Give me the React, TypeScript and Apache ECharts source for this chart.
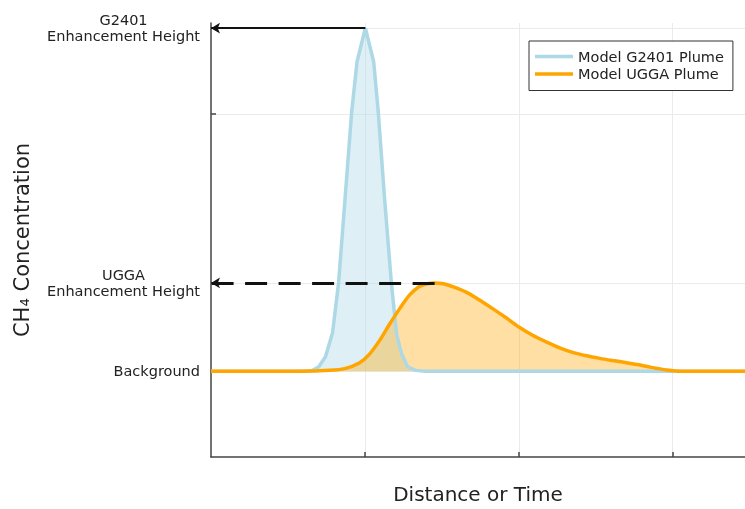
import React, { useEffect, useRef } from 'react';
import * as echarts from 'echarts';

// Distance / time axis positions and concentration values
const xBlue = [0, 0.608, 0.66, 0.699, 0.744, 0.79, 0.829, 0.871, 0.914, 0.949, 1.003, 1.057, 1.087, 1.128, 1.172, 1.206, 1.239, 1.278, 1.33, 1.388, 3.47];
const yBlue = [1, 1, 1.01, 1.05, 1.17, 1.45, 2.03, 3.01, 4.02, 4.61, 5.0, 4.61, 4.02, 3.01, 2.03, 1.43, 1.2, 1.05, 1.01, 1, 1];
const xOrange = [0, 0.575, 0.77, 0.868, 0.966, 1.03, 1.096, 1.161, 1.226, 1.291, 1.356, 1.405, 1.453, 1.51, 1.58, 1.661, 1.745, 1.83, 1.92, 2.006, 2.09, 2.181, 2.27, 2.35, 2.44, 2.526, 2.61, 2.7, 2.78, 2.86, 2.962, 3.059, 3.47];
const yOrange = [1, 1, 1.01, 1.03, 1.1, 1.2, 1.36, 1.55, 1.73, 1.89, 1.99, 2.02, 2.03, 2.02, 1.98, 1.92, 1.83, 1.73, 1.62, 1.51, 1.42, 1.34, 1.27, 1.22, 1.18, 1.15, 1.125, 1.1, 1.075, 1.045, 1.015, 1, 1];

const seriesNames = ['Model G2401 Plume', 'Model UGGA Plume'];
const yTickValues = [1, 2.03, 4, 5];
const yTickLabels = ['Background', 'UGGA\nEnhancement Height', '', 'G2401\nEnhancement Height'];
const xTickValues = [1, 2, 3];
const xRange = [0, 3.47];
const yRange = [0, 5.06];
const g2401Peak = [1.003, 5.0];
const uggaPeak = [1.453, 2.03];

const FONT = 'DejaVu Sans';

export default function App() {
  const ref = useRef<HTMLDivElement>(null);
  useEffect(() => {
    if (!ref.current) return;
    const chart = echarts.init(ref.current, null, { renderer: 'svg' });
    const labelFor = (v: number) => {
      let best = 0;
      for (let i = 1; i < yTickValues.length; i++) {
        if (Math.abs(yTickValues[i] - v) < Math.abs(yTickValues[best] - v)) best = i;
      }
      return yTickLabels[best];
    };
    const markLineFor = (peak: number[], dashed: boolean, width: number) => ({
      silent: true,
      animation: false,
      symbol: ['none', 'arrow'],
      symbolSize: [8, 9],
      label: { show: false },
      emphasis: { disabled: true },
      lineStyle: { color: '#111', width, type: dashed ? [22, 11.5] : 'solid', opacity: 1 },
      data: [[{ coord: [peak[0], peak[1]] }, { coord: [xRange[0], peak[1]] }]],
    });
    chart.setOption({
      animation: false,
      textStyle: { fontFamily: FONT },
      grid: { left: 211, right: 0, top: 23, bottom: 48, containLabel: false },
      legend: {
        data: seriesNames,
        orient: 'vertical',
        left: 529,
        top: 41,
        padding: [8, 9, 9, 6],
        borderColor: '#333',
        borderWidth: 1,
        borderRadius: 0,
        backgroundColor: '#fff',
        icon: 'rect',
        itemWidth: 38,
        itemHeight: 3.5,
        itemGap: 2.5,
        textStyle: { fontFamily: FONT, fontSize: 14.5, color: '#222' },
      },
      xAxis: {
        type: 'value',
        min: xRange[0],
        max: xRange[1],
        name: 'Distance or Time',
        nameLocation: 'middle',
        nameGap: 27,
        nameTextStyle: { fontFamily: FONT, fontSize: 20, color: '#222' },
        axisLine: { lineStyle: { color: '#444', width: 1.5 } },
        axisTick: { show: true, inside: true, length: 5, customValues: xTickValues, lineStyle: { color: '#444', width: 1.5 } },
        axisLabel: { show: false, customValues: xTickValues },
        splitLine: { show: true, lineStyle: { color: '#ebebeb', width: 1 } },
      },
      yAxis: {
        type: 'value',
        min: yRange[0],
        max: yRange[1],
        name: 'CH₄ Concentration',
        nameLocation: 'middle',
        nameRotate: 90,
        nameGap: 179,
        nameTextStyle: { fontFamily: FONT, fontSize: 21, color: '#222' },
        axisLine: { show: true, lineStyle: { color: '#444', width: 1.5 } },
        axisTick: { show: true, inside: true, length: 5, customValues: yTickValues, lineStyle: { color: '#444', width: 1.5 } },
        axisLabel: {
          show: true,
          customValues: yTickValues.filter((_, i) => yTickLabels[i] !== ''),
          margin: 11,
          formatter: (v: number) => labelFor(v).split('\n').map((l) => `{c|${l}}`).join('\n'),
          rich: { c: { align: 'center', fontFamily: FONT, fontSize: 14.5, lineHeight: 16, color: '#222' } },
        },
        splitLine: { show: true, lineStyle: { color: '#ebebeb', width: 1 } },
      },
      series: [
        {
          name: seriesNames[0],
          type: 'line',
          data: xBlue.map((x, i) => [x, yBlue[i]]),
          showSymbol: false,
          symbol: 'none',
          color: '#add8e6',
          lineStyle: { color: '#add8e6', width: 3.5 },
          areaStyle: { color: '#add8e6', opacity: 0.4, origin: 1 },
          emphasis: { disabled: true },
          markLine: markLineFor(g2401Peak, false, 2),
        },
        {
          name: seriesNames[1],
          type: 'line',
          data: xOrange.map((x, i) => [x, yOrange[i]]),
          showSymbol: false,
          symbol: 'none',
          smooth: 0.3,
          color: '#ffa500',
          lineStyle: { color: '#ffa500', width: 3.5 },
          areaStyle: { color: '#ffa500', opacity: 0.36, origin: 1 },
          emphasis: { disabled: true },
          markLine: markLineFor(uggaPeak, true, 3),
        },
      ],
    });
    return () => chart.dispose();
  }, []);
  return <div ref={ref} style={{ position: 'fixed', left: 0, top: 0, width: 745, height: 509 }} />;
}
